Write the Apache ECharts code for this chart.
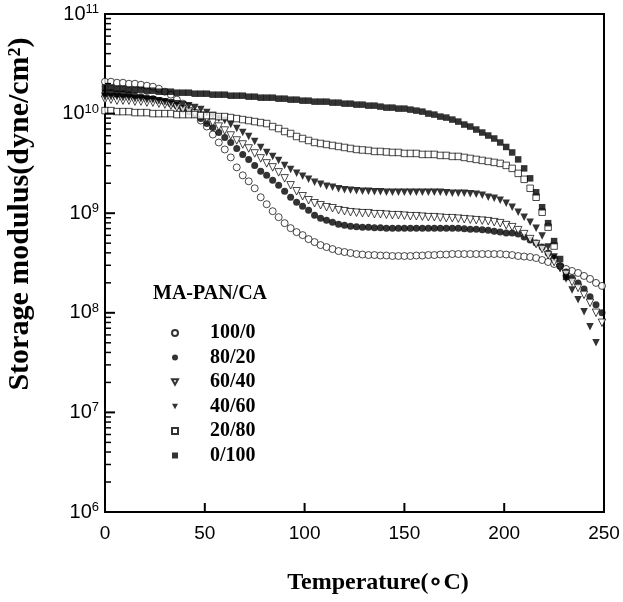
<!DOCTYPE html>
<html>
<head>
<meta charset="utf-8">
<script src="https://cdn.jsdelivr.net/npm/echarts@6/dist/echarts.min.js"></script>
<style>
  html, body { margin: 0; padding: 0; background: #fff; }
  #chart { width: 623px; height: 602px; }
</style>
</head>
<body>
<div id="chart"></div>
<script>
// temperatures (°C) of the measurement points
const temps = [
  0, 3, 6, 9, 12, 15, 18, 21, 24, 27,
  30, 33, 36, 39, 42, 45, 48, 51, 54, 57,
  60, 63, 66, 69, 72, 75, 78, 81, 84, 87,
  90, 93, 96, 99, 102, 105, 108, 111, 114, 117,
  120, 123, 126, 129, 132, 135, 138, 141, 144, 147,
  150, 153, 156, 159, 162, 165, 168, 171, 174, 177,
  180, 183, 186, 189, 192, 195, 198, 201, 204, 207,
  210, 213, 216, 219, 222, 225, 228, 231, 234, 237,
  240, 243, 246, 249
];

// storage modulus, read as log10(dyne/cm2)
const log_100_0 = [
  10.32, 10.32, 10.31, 10.31, 10.30, 10.30, 10.29, 10.28, 10.27, 10.25,
  10.22, 10.19, 10.14, 10.10, 10.07, 10.01, 9.93, 9.87, 9.79, 9.71,
  9.64, 9.56, 9.46, 9.38, 9.32, 9.25, 9.16, 9.09, 9.02, 8.96,
  8.90, 8.85, 8.81, 8.78, 8.74, 8.71, 8.68, 8.66, 8.64, 8.62,
  8.61, 8.60, 8.59, 8.585, 8.58, 8.58, 8.575, 8.575, 8.57, 8.57,
  8.57, 8.57, 8.575, 8.575, 8.58, 8.58, 8.585, 8.585, 8.59, 8.59,
  8.59, 8.59, 8.59, 8.59, 8.59, 8.59, 8.59, 8.585, 8.58, 8.57,
  8.565, 8.56, 8.55, 8.53, 8.51, 8.49, 8.47, 8.44, 8.42, 8.40,
  8.37, 8.34, 8.30, 8.27
];
const log_80_20 = [
  10.21, 10.21, 10.20, 10.20, 10.19, 10.18, 10.17, 10.16, 10.15, 10.13,
  10.12, 10.10, 10.08, 10.05, 10.02, 9.99, 9.95, 9.90, 9.86, 9.81,
  9.76, 9.71, 9.65, 9.59, 9.54, 9.48, 9.42, 9.38, 9.33, 9.28,
  9.22, 9.16, 9.11, 9.07, 9.03, 8.98, 8.95, 8.93, 8.91, 8.89,
  8.88, 8.87, 8.865, 8.86, 8.86, 8.855, 8.855, 8.85, 8.85, 8.85,
  8.85, 8.85, 8.85, 8.85, 8.85, 8.85, 8.85, 8.85, 8.85, 8.85,
  8.845, 8.84, 8.84, 8.835, 8.83, 8.82, 8.81, 8.80, 8.80, 8.79,
  8.76, 8.73, 8.70, 8.66, 8.60, 8.55, 8.47, 8.41, 8.35, 8.30,
  8.24, 8.16, 8.08, 8.00
];
const log_60_40 = [
  10.14, 10.14, 10.13, 10.13, 10.13, 10.12, 10.12, 10.11, 10.11, 10.10,
  10.09, 10.08, 10.06, 10.04, 10.02, 10.00, 9.98, 9.95, 9.91, 9.87,
  9.83, 9.78, 9.73, 9.69, 9.65, 9.60, 9.55, 9.50, 9.46, 9.41,
  9.35, 9.28, 9.22, 9.17, 9.13, 9.10, 9.08, 9.06, 9.05, 9.03,
  9.02, 9.01, 9.005, 9.00, 9.00, 8.99, 8.99, 8.985, 8.98, 8.98,
  8.975, 8.97, 8.97, 8.965, 8.96, 8.96, 8.955, 8.95, 8.95, 8.945,
  8.94, 8.935, 8.93, 8.925, 8.92, 8.91, 8.90, 8.88, 8.86, 8.83,
  8.79, 8.74, 8.69, 8.64, 8.58, 8.51, 8.45, 8.39, 8.31, 8.25,
  8.18, 8.10, 8.00, 7.90
];
const log_40_60 = [
  10.17, 10.17, 10.17, 10.16, 10.16, 10.15, 10.15, 10.14, 10.14, 10.13,
  10.12, 10.11, 10.10, 10.09, 10.08, 10.06, 10.04, 10.01, 9.98, 9.95,
  9.93, 9.89, 9.85, 9.81, 9.77, 9.72, 9.66, 9.61, 9.57, 9.53,
  9.48, 9.44, 9.40, 9.37, 9.34, 9.31, 9.29, 9.27, 9.26, 9.245,
  9.235, 9.23, 9.225, 9.22, 9.22, 9.215, 9.215, 9.21, 9.21, 9.21,
  9.21, 9.21, 9.21, 9.21, 9.21, 9.21, 9.21, 9.205, 9.20, 9.20,
  9.20, 9.195, 9.19, 9.18, 9.16, 9.15, 9.13, 9.10, 9.06, 9.01,
  8.96, 8.91, 8.85, 8.77, 8.66, 8.56, 8.45, 8.34, 8.23, 8.13,
  8.01, 7.86, 7.70
];
const log_20_80 = [
  10.03, 10.03, 10.02, 10.02, 10.02, 10.01, 10.01, 10.01, 10.00, 10.00,
  10.00, 10.00, 9.99, 9.99, 9.99, 9.99, 9.98, 9.98, 9.98, 9.97,
  9.97, 9.96, 9.95, 9.94, 9.93, 9.92, 9.91, 9.90, 9.87, 9.85,
  9.82, 9.80, 9.77, 9.75, 9.73, 9.71, 9.70, 9.69, 9.68, 9.67,
  9.66, 9.65, 9.64, 9.635, 9.63, 9.62, 9.62, 9.615, 9.61, 9.61,
  9.60, 9.60, 9.60, 9.59, 9.59, 9.59, 9.58, 9.58, 9.57, 9.57,
  9.56, 9.55, 9.54, 9.53, 9.52, 9.51, 9.50, 9.48, 9.45, 9.40,
  9.34, 9.25, 9.16, 9.01, 8.86, 8.67
];
const log_0_100 = [
  10.26, 10.26, 10.25, 10.25, 10.24, 10.24, 10.24, 10.23, 10.23, 10.22,
  10.22, 10.22, 10.21, 10.21, 10.21, 10.20, 10.20, 10.20, 10.19, 10.19,
  10.19, 10.18, 10.18, 10.18, 10.17, 10.17, 10.16, 10.16, 10.16, 10.15,
  10.15, 10.14, 10.14, 10.13, 10.13, 10.12, 10.12, 10.12, 10.11, 10.11,
  10.10, 10.10, 10.09, 10.09, 10.08, 10.08, 10.07, 10.06, 10.06, 10.05,
  10.05, 10.04, 10.03, 10.02, 10.00, 9.99, 9.97, 9.96, 9.94, 9.92,
  9.89, 9.87, 9.84, 9.81, 9.78, 9.75, 9.71, 9.665, 9.61, 9.54,
  9.45, 9.35, 9.21, 9.06, 8.90, 8.72, 8.54, 8.36
];

const seriesNames = ["100/0", "80/20", "60/40", "40/60", "20/80", "0/100"];
const xTicks = [0, 50, 100, 150, 200, 250];
const yDecades = [6, 7, 8, 9, 10, 11];
const yMinorMantissa = [2, 3, 4, 5, 6, 7, 8, 9];

const chart = echarts.init(document.getElementById("chart"));

function points(logs) {
  return logs.map((v, i) => [temps[i], Math.pow(10, v)]);
}

const black = "#000";
const openStyle = { color: "#fff", borderColor: black, borderWidth: 0.9 };
const fillStyle = { color: black };
const downTriangle = "path://M0,0L10,0L5,9Z";

function scatter(name, logs, symbol, size, style, rotate) {
  return {
    name,
    type: "scatter",
    data: points(logs),
    symbol,
    symbolSize: size,
    symbolRotate: rotate || 0,
    itemStyle: style,
    emphasis: { disabled: true },
    silent: true,
    z: 3
  };
}

const serif = "'Liberation Serif', 'Times New Roman', serif";
const sans = "'Liberation Sans', Arial, sans-serif";

const option = {
  animation: false,
  backgroundColor: "#fff",
  title: {
    text: "MA-PAN/CA",
    left: 153,
    top: 284,
    padding: 0,
    textStyle: { fontFamily: serif, fontWeight: "bold", fontSize: 20, color: black }
  },
  legend: {
    data: seriesNames.map((n, i) =>
      i === 2 || i === 3 ? { name: n, icon: downTriangle } : { name: n }
    ),
    orient: "vertical",
    left: 171,
    top: 323,
    padding: 0,
    itemWidth: 6,
    itemHeight: 6,
    itemGap: 4.5,
    selectedMode: false,
    textStyle: {
      fontFamily: serif,
      fontWeight: "bold",
      fontSize: 20,
      lineHeight: 20,
      color: black,
      padding: [0, 0, 0, 27]
    }
  },
  grid: {
    left: 105,
    right: 19,
    top: 14,
    bottom: 90,
    show: true,
    borderColor: black,
    borderWidth: 2,
    backgroundColor: "transparent"
  },
  xAxis: {
    type: "value",
    min: 0,
    max: 250,
    interval: 50,
    axisLine: { show: true, lineStyle: { color: black, width: 2 } },
    axisTick: { show: false },
    axisLabel: { color: black, fontFamily: sans, fontSize: 19, margin: 12 },
    splitLine: { show: false }
  },
  yAxis: {
    type: "log",
    logBase: 10,
    min: 1e6,
    max: 1e11,
    splitNumber: 5,
    axisLine: { show: true, lineStyle: { color: black, width: 2 } },
    axisTick: { show: false },
    axisLabel: {
      margin: 6,
      formatter: (v) => "{b|10}{s|" + Math.round(Math.log10(v)) + "}",
      rich: {
        b: { fontFamily: sans, fontSize: 20, lineHeight: 22, color: black },
        s: { fontFamily: sans, fontSize: 13, lineHeight: 13, color: black, verticalAlign: "top" }
      }
    },
    splitLine: { show: false },
    minorTick: { show: false }
  },
  graphic: [
    {
      type: "text",
      x: 378,
      y: 583,
      style: {
        text: "Temperature(∘C)",
        fill: black,
        font: "bold 24px " + serif,
        textAlign: "center",
        textVerticalAlign: "middle",
        align: "center",
        verticalAlign: "middle"
      }
    },
    {
      type: "text",
      x: 20,
      y: 214,
      rotation: Math.PI / 2,
      style: {
        text: "Storage modulus(dyne/cm²)",
        fill: black,
        font: "bold 30px " + serif,
        textAlign: "center",
        textVerticalAlign: "middle",
        align: "center",
        verticalAlign: "middle"
      }
    }
  ],
  series: [
    scatter("100/0", log_100_0, "circle", 7, openStyle),
    scatter("80/20", log_80_20, "circle", 7, fillStyle),
    scatter("60/40", log_60_40, "triangle", 7.5, openStyle, 180),
    scatter("40/60", log_40_60, "triangle", 7.5, fillStyle, 180),
    scatter("20/80", log_20_80, "rect", 6.5, openStyle),
    scatter("0/100", log_0_100, "rect", 6.5, fillStyle)
  ]
};

chart.setOption(option);

// inward tick marks, placed through the chart's own scales
const tickLines = [];
function tick(x1, y1, x2, y2, w) {
  tickLines.push({
    type: "line",
    silent: true,
    z: 10,
    shape: { x1, y1, x2, y2 },
    style: { stroke: black, lineWidth: w }
  });
}
xTicks.forEach((t) => {
  const p = chart.convertToPixel({ gridIndex: 0 }, [t, 1e6]);
  tick(p[0], p[1], p[0], p[1] - 9, 2);
});
yDecades.forEach((d) => {
  const p = chart.convertToPixel({ gridIndex: 0 }, [0, Math.pow(10, d)]);
  tick(p[0], p[1], p[0] + 10, p[1], 2);
  if (d < 11) {
    yMinorMantissa.forEach((m) => {
      const q = chart.convertToPixel({ gridIndex: 0 }, [0, m * Math.pow(10, d)]);
      tick(q[0], q[1], q[0] + 6, q[1], 1.5);
    });
  }
});
chart.setOption({ graphic: option.graphic.concat(tickLines) });

window.addEventListener("resize", () => chart.resize());
</script>
</body>
</html>
